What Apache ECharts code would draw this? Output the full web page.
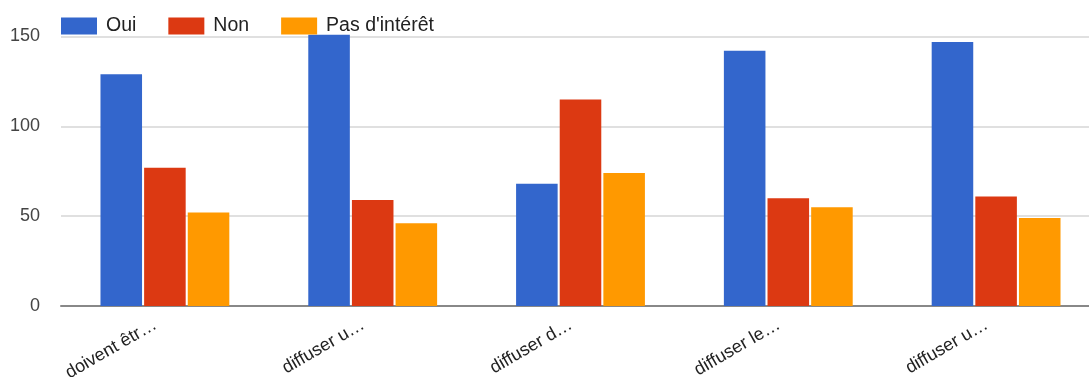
<!DOCTYPE html>
<html>
<head>
<meta charset="utf-8">
<script src="https://cdn.jsdelivr.net/npm/echarts@6/dist/echarts.min.js"></script>
<style>html,body{margin:0;padding:0;background:#fff;overflow:hidden}#c{width:1100px;height:377px}</style>
</head>
<body>
<div id="c"></div>
<script>
const categories = ["doivent êtr…", "diffuser u…", "diffuser d…", "diffuser le…", "diffuser u…"];
const seriesNames = ["Oui", "Non", "Pas d'intérêt"];
const oui = [129, 151, 68, 142, 147];
const non = [77, 59, 115, 60, 61];
const pasInteret = [52, 46, 74, 55, 49];
const yTicks = [0, 50, 100, 150];
const colors = ["#3366cc", "#dc3912", "#ff9900"];

const chart = echarts.init(document.getElementById('c'), null, {renderer: 'canvas'});
const values = [oui, non, pasInteret];
chart.setOption({
  animation: false,
  textStyle: {fontFamily: 'Liberation Sans, Arial, sans-serif'},
  legend: {
    left: 61, top: 16, padding: 0,
    itemWidth: 36, itemHeight: 17, itemGap: 32,
    icon: 'rect',
    textStyle: {fontSize: 19.5, color: '#222', padding: [0, 0, 0, 4]},
    data: seriesNames
  },
  grid: {left: 61, right: 0, top: 36.5, bottom: 71, containLabel: false, outerBoundsMode: 'none'},
  xAxis: {
    type: 'category',
    data: categories,
    axisLine: {lineStyle: {color: '#888', width: 2}},
    axisTick: {show: false},
    axisLabel: {rotate: 30, fontSize: 18, color: '#222', margin: 12, interval: 0, padding: [0, 11, 0, 0]}
  },
  yAxis: {
    type: 'value', min: yTicks[0], max: yTicks[yTicks.length - 1], interval: 50,
    axisLine: {show: false}, axisTick: {show: false},
    splitLine: {lineStyle: {color: '#e0e0e0', width: 2}},
    axisLabel: {fontSize: 18, color: '#444', margin: 21}
  },
  series: seriesNames.map((n, i) => ({
    name: n, type: 'bar', data: values[i], clip: false,
    barWidth: '20%', barGap: '5%',
    itemStyle: {color: colors[i]}
  }))
});
</script>
</body>
</html>
